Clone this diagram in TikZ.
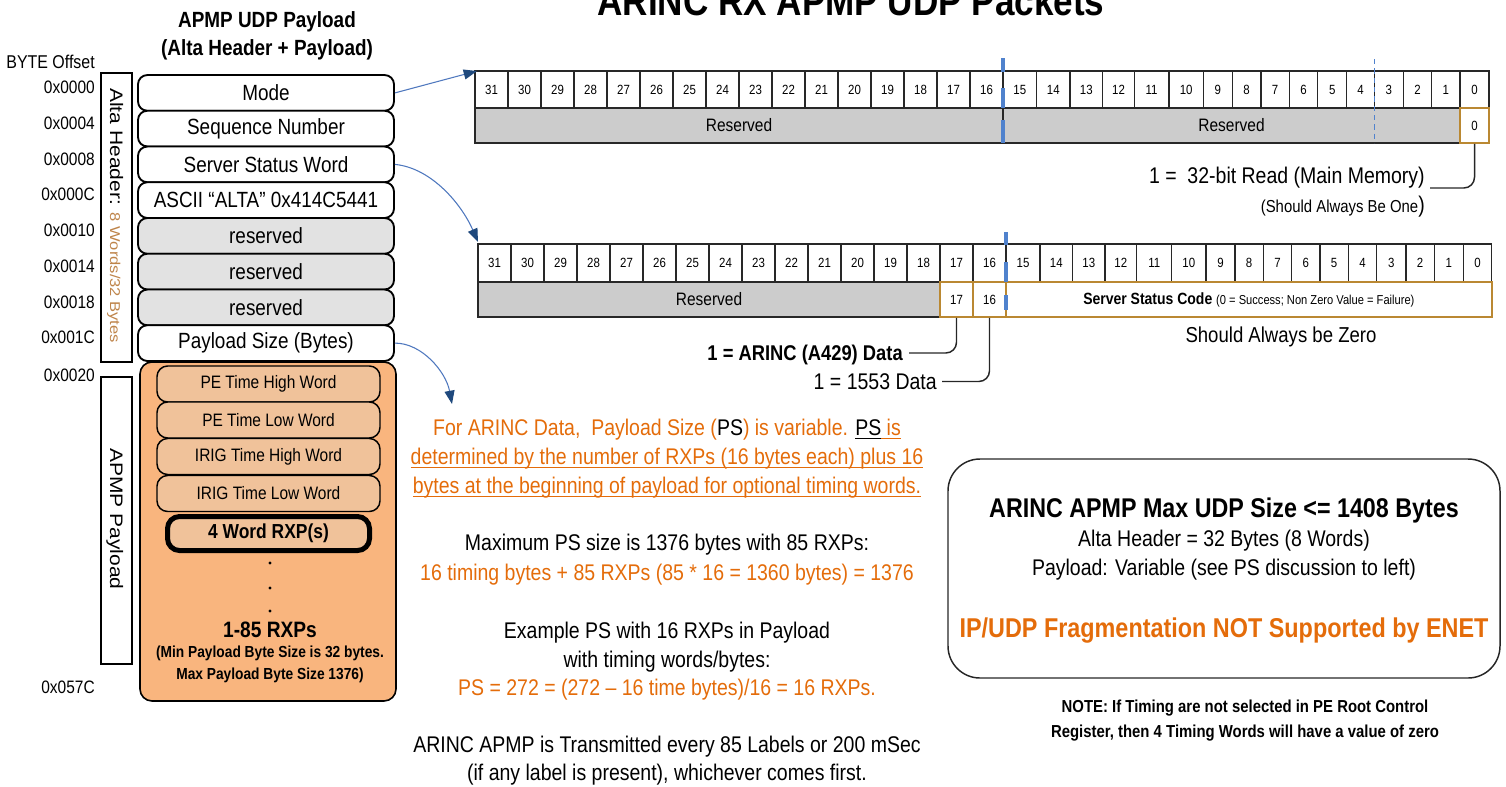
\documentclass[tikz,border=0pt]{standalone}
\usepackage{fontspec}
\setmainfont{Liberation Sans}[FakeStretch=0.86]
\newfontfamily\rotfont{Liberation Sans}
\usetikzlibrary{arrows.meta}
\definecolor{orng}{RGB}{228,108,10}
\definecolor{tanc}{RGB}{190,132,74}
\definecolor{peach}{RGB}{249,181,126}
\definecolor{lpeach}{RGB}{240,194,154}
\definecolor{resgray}{RGB}{204,204,204}
\definecolor{hgray}{RGB}{226,226,226}
\definecolor{goldc}{RGB}{186,136,50}
\definecolor{arrblue}{RGB}{79,120,190}
\definecolor{tipblue}{RGB}{31,73,125}
\definecolor{markblue}{RGB}{80,130,205}
\definecolor{cellc}{RGB}{40,40,40}
\newcommand\fsz[1]{\fontsize{#1}{#1}\selectfont}
\newsavebox\ulbox
\newcommand\myul[1]{\sbox\ulbox{#1}\rlap{\rule[-2.6pt]{\wd\ulbox}{0.8pt}}\usebox\ulbox}
\begin{document}
\begin{tikzpicture}[x=0.75pt,y=-0.75pt,
  hdr/.style={draw=black, line width=1.4pt, rounded corners=7pt, minimum width=192pt, minimum height=26.8pt, inner sep=0pt, font=\fsz{16.5pt}},
  inbox/.style={draw=black, line width=1.1pt, rounded corners=8pt, fill=lpeach, minimum width=167.25pt, minimum height=27pt, inner sep=0pt, font=\fsz{13.5pt}},
  offs/.style={anchor=base east, inner sep=0pt, font=\fsz{13.5pt}},
  cellw/.style={draw=cellc, line width=1.1pt, fill=white},
  cellg/.style={draw=cellc, line width=1.1pt, fill=resgray},
  bitlab/.style={font=\fsz{10pt}, inner sep=0pt},
  gcell/.style={draw=goldc, line width=1.2pt, fill=white, inner sep=0pt, font=\fsz{10pt}},
  callout/.style={draw=black!85, line width=1.1pt, rounded corners=8pt},
  bluemark/.style={draw=markblue, line width=2.6pt},
  arr/.style={draw=arrblue, line width=0.8pt, -{Triangle[length=10pt,width=7.5pt,color=tipblue]}},
  txt/.style={anchor=base, inner sep=0pt, font=\fsz{17pt}}
]
\useasboundingbox (0,0) rectangle (1506,786);

% titles
\node[anchor=base, inner sep=0pt, font=\bfseries\fsz{30.6pt}] (title) at (851,15) {ARINC RX APMP UDP Packets};
\node[anchor=base, inner sep=0pt, font=\bfseries\fsz{16.5pt}] (lt1) at (267,27) {APMP UDP Payload};
\node[anchor=base, inner sep=0pt, font=\bfseries\fsz{16.5pt}] (lt2) at (267,55) {(Alta Header + Payload)};
\node[offs, font=\fsz{13.9pt}] (byteoff) at (95,68) {BYTE Offset};

% offsets
\node[offs] (o0) at (95,93.5) {0x0000};
\node[offs] (o1) at (95,129.3) {0x0004};
\node[offs] (o2) at (95,165.1) {0x0008};
\node[offs] (o3) at (95,200.8) {0x000C};
\node[offs] (o4) at (95,236.6) {0x0010};
\node[offs] (o5) at (95,272.4) {0x0014};
\node[offs] (o6) at (95,308.2) {0x0018};
\node[offs] (o7) at (95,343.9) {0x001C};
\node[offs] (o8) at (95,381.5) {0x0020};
\node[offs] (o9) at (95,693.5) {0x057C};

% vertical label boxes
\draw[line width=1.2pt] (101,73) rectangle (132,362);
\node[rotate=-90, anchor=base west, inner sep=0pt] (altalab) at (110,88) {\scalebox{1}[0.86]{\rotfont\fsz{15.75pt}Alta Header: \textcolor{tanc}{\fsz{12.4pt}8 Words/32 Bytes}}};
\draw[line width=1.2pt] (101,377) rectangle (132,664);
\node[rotate=-90, anchor=base west, inner sep=0pt] (apmplab) at (110,448) {\scalebox{1}[0.86]{\rotfont\fsz{15.75pt}APMP Payload}};

% header words
\node[hdr, fill=white] (mode)  at (266,92.9)  {Mode};
\node[hdr, fill=white] (seq)   at (266,128.6) {Sequence Number};
\node[hdr, fill=white] (ssw)   at (266,164.4) {Server Status Word};
\node[hdr, fill=white] (ascii) at (266,200.1) {ASCII “ALTA” 0x414C5441};
\node[hdr, fill=hgray] (res1)  at (266,235.9) {reserved};
\node[hdr, fill=hgray] (res2)  at (266,271.6) {reserved};
\node[hdr, fill=hgray] (res3)  at (266,307.4) {reserved};
\node[hdr, fill=white] (psize) at (266,343.1) {Payload Size (Bytes)};

% payload
\node[draw=black, line width=1.2pt, rounded corners=9pt, fill=peach, minimum width=192pt, minimum height=254.25pt, inner sep=0pt] (payload) at (268,531.5) {};
\node[inbox] (peh) at (268.5,384)   {PE Time High Word};
\node[inbox] (pel) at (268.5,420)   {PE Time Low Word};
\node[inbox] (irh) at (268.5,456.5) {IRIG Time High Word};
\node[inbox] (irl) at (268.5,493.5) {IRIG Time Low Word};
\node[draw=black, line width=3.75pt, rounded corners=9pt, fill=lpeach, minimum width=151.5pt, minimum height=25.5pt, inner sep=0pt, font=\bfseries\fsz{15.2pt}] (rxp) at (268.5,533.5) {4 Word RXP(s)};
\fill (270,563) circle (1.6);
\fill (270,588) circle (1.6);
\fill (270,611) circle (1.6);
\node[anchor=base, inner sep=0pt, font=\bfseries\fsz{16.7pt}] (rxps) at (270,637) {1-85 RXPs};
\node[anchor=base, inner sep=0pt, font=\bfseries\fsz{12pt}] (minp) at (270,657) {(Min Payload Byte Size is 32 bytes.};
\node[anchor=base, inner sep=0pt, font=\bfseries\fsz{12pt}] (maxp) at (270,679) {Max Payload Byte Size 1376)};

% ---------- top bit field ----------
\foreach \i in {0,...,15}{
  \pgfmathsetmacro\xa{475+33*\i}
  \pgfmathsetmacro\xb{\xa+33}
  \pgfmathtruncatemacro\lab{31-\i}
  \draw[cellw] (\xa,71) rectangle (\xb,108);
  \node[bitlab] at ({(\xa+\xb)/2},89.5) {\lab};
}
\foreach \xa/\xb/\lab in {1003/1036.7/15,1036.7/1070/14,1070/1102.7/13,1102.7/1134.3/12,1134.3/1169/11,1169/1203.3/10,1203.3/1232.3/9,1232.3/1261/8,1261/1289.3/7,1289.3/1317.7/6,1317.7/1346.7/5,1346.7/1374.3/4,1374.3/1403.3/3,1403.3/1431.7/2,1431.7/1460/1,1460/1489/0}{
  \draw[cellw] (\xa,71) rectangle (\xb,108);
  \node[bitlab] at ({(\xa+\xb)/2},89.5) {\lab};
}
\draw[cellg] (475,108) rectangle (1003,143);
\node[inner sep=0pt, font=\fsz{13.5pt}] (resA) at (739,125.5) {Reserved};
\draw[cellg] (1003,108) rectangle (1460,143);
\node[inner sep=0pt, font=\fsz{13.5pt}] (resB) at (1231.5,125.5) {Reserved};
\node[gcell, minimum width=21.75pt, minimum height=26.25pt] (zero) at (1474.5,125.5) {0};
\draw[bluemark] (1003,58) -- (1003,72);
\draw[bluemark] (1003,88) -- (1003,108);
\draw[bluemark] (1003,120) -- (1003,143);
\draw[markblue, line width=1.1pt, dash pattern=on 4pt off 3pt] (1374.3,59) -- (1374.3,143);

\node[anchor=base east, inner sep=0pt, font=\fsz{17pt}] (readlab) at (1425,183) {1 =\ \ 32-bit Read (Main Memory)};
\node[anchor=base east, inner sep=0pt] (onelab) at (1425,212) {\fsz{13pt}(Should Always Be One\fsz{17pt})};
\coordinate (e0) at (1430,188);
\draw[callout] (zero.south) |- (e0);

% ---------- second bit field ----------
\foreach \i in {0,...,15}{
  \pgfmathsetmacro\xa{478+33*\i}
  \pgfmathsetmacro\xb{\xa+33}
  \pgfmathtruncatemacro\lab{31-\i}
  \draw[cellw] (\xa,244) rectangle (\xb,282);
  \node[bitlab] at ({(\xa+\xb)/2},263) {\lab};
}
\foreach \xa/\xb/\lab in {1006/1040/15,1040/1072.7/14,1072.7/1105/13,1105/1136.7/12,1136.7/1171.7/11,1171.7/1206/10,1206/1235/9,1235/1263.3/8,1263.3/1291.7/7,1291.7/1320/6,1320/1348.3/5,1348.3/1376.7/4,1376.7/1406/3,1406/1434.3/2,1434.3/1463.3/1,1463.3/1491.7/0}{
  \draw[cellw] (\xa,244) rectangle (\xb,282);
  \node[bitlab] at ({(\xa+\xb)/2},263) {\lab};
}
\draw[cellg] (478,282) rectangle (940,317);
\node[inner sep=0pt, font=\fsz{13.5pt}] (resC) at (709,299.5) {Reserved};
\node[gcell, minimum width=24.75pt, minimum height=26.25pt] (c17) at (956.5,299.5) {17};
\node[gcell, minimum width=24.75pt, minimum height=26.25pt] (c16) at (989.5,299.5) {16};
\node[gcell, minimum width=364.3pt, minimum height=26.25pt] (ssc) at (1248.85,299.5) {\bfseries\fsz{12.2pt}Server Status Code \mdseries\fsz{9.7pt}(0 = Success; Non Zero Value = Failure)};
\draw[bluemark] (1006,232) -- (1006,245);
\draw[bluemark] (1006,262) -- (1006,282);
\draw[bluemark] (1006,295) -- (1006,310);

\node[anchor=base, inner sep=0pt, font=\fsz{16.2pt}] (zerolab) at (1281,342) {Should Always be Zero};
\node[anchor=base east, inner sep=0pt, font=\bfseries\fsz{16pt}] (l17) at (903,360) {1 = ARINC (A429) Data};
\node[anchor=base east, inner sep=0pt, font=\fsz{17pt}] (l16) at (937,389) {1 = 1553 Data};
\coordinate (e17) at (909,353);
\coordinate (e16) at (942,381.5);
\draw[callout] (c17.south) |- (e17);
\draw[callout] (c16.south) |- (e16);

% ---------- arrows ----------
\coordinate (bfA) at (477,71);
\coordinate (bfB) at (478,242);
\coordinate (ptA) at (452,404);
\draw[arr] (mode.east) -- (bfA);
\draw[arr] (ssw.east) .. controls (432,168) and (462,205) .. (bfB);
\draw[arr] (psize.east) .. controls (422,343) and (446,372) .. (ptA);

% ---------- middle text ----------
\node[txt, text=orng] (mt1) at (667,435.5) {For ARINC Data,\ \ Payload Size (\textcolor{black}{PS}) is variable. \textcolor{black}{\myul{PS}}\myul{\ is}};
\node[txt, text=orng] (mt2) at (667,464.5) {\myul{determined by the number of RXPs (16 bytes each) plus 16}};
\node[txt, text=orng] (mt3) at (667,493.5) {\myul{bytes at the beginning of payload for optional timing words.}};
\node[txt] (mt4) at (667,550.5) {Maximum PS size is 1376 bytes with 85 RXPs:};
\node[txt, text=orng] (mt5) at (667,580) {16 timing bytes + 85 RXPs (85 * 16 = 1360 bytes) = 1376};
\node[txt] (mt6) at (667,638) {Example PS with 16 RXPs in Payload};
\node[txt] (mt7) at (667,667) {with timing words/bytes:};
\node[txt, text=orng] (mt8) at (667,695) {PS = 272 = (272 – 16 time bytes)/16 = 16 RXPs.};
\node[txt] (mt9) at (667,752) {ARINC APMP is Transmitted every 85 Labels or 200 mSec};
\node[txt] (mt10) at (667,780) {(if any label is present), whichever comes first.};

% ---------- right box ----------
\node[draw=black!85, line width=1.1pt, rounded corners=24pt, minimum width=414pt, minimum height=164.25pt, inner sep=0pt] (maxbox) at (1224,568.5) {};
\node[anchor=base, inner sep=0pt, font=\bfseries\fsz{20.3pt}] (mb1) at (1224,517) {ARINC APMP Max UDP Size <= 1408 Bytes};
\node[txt] (mb2) at (1224,546) {Alta Header = 32 Bytes (8 Words)};
\node[txt] (mb3) at (1224,575) {Payload: Variable (see PS discussion to left)};
\node[anchor=base, inner sep=0pt, text=orng, font=\bfseries\fsz{20.4pt}] (mb4) at (1224,637) {IP/UDP Fragmentation NOT Supported by ENET};
\node[anchor=base, inner sep=0pt, font=\bfseries\fsz{13pt}] (note1) at (1245,712) {NOTE: If Timing are not selected in PE Root Control};
\node[anchor=base, inner sep=0pt, font=\bfseries\fsz{13pt}] (note2) at (1245,737) {Register, then 4 Timing Words will have a value of zero};
\end{tikzpicture}
\end{document}
